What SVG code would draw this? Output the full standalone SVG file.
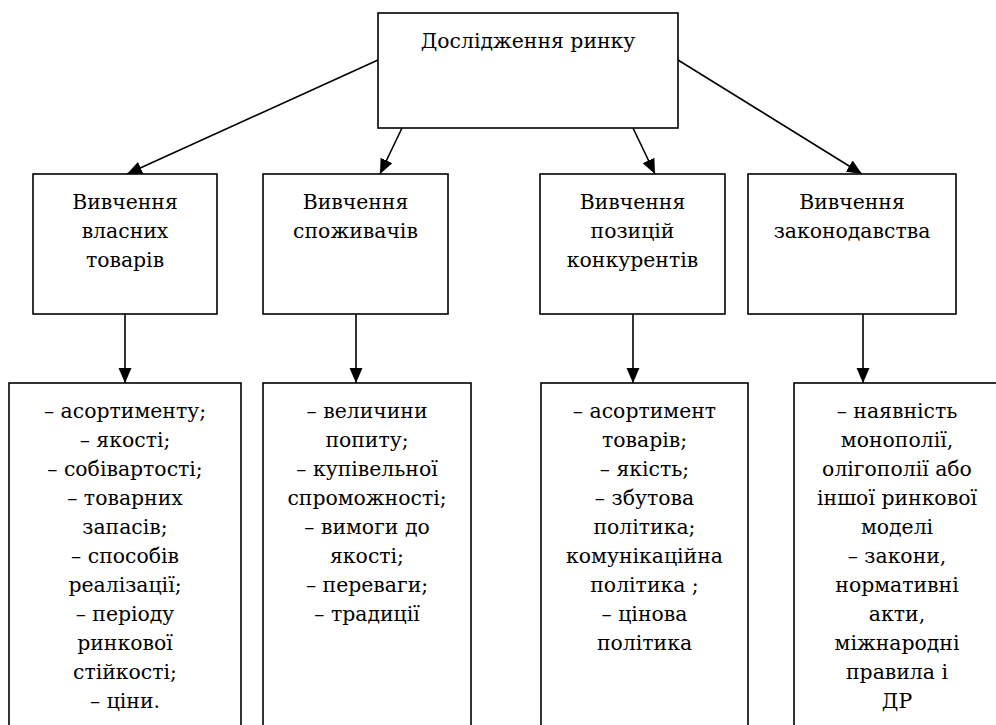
<svg xmlns="http://www.w3.org/2000/svg" width="996" height="725" viewBox="0 0 996 725">
<defs>
<marker id="arr" markerUnits="userSpaceOnUse" markerWidth="16" markerHeight="14" refX="15" refY="6.5" orient="auto">
<path d="M0,0 L15,6.5 L0,13 z" fill="#000"/>
</marker>
<style>
rect{fill:#fff;stroke:#000;stroke-width:1.6}
text{font-family:"DejaVu Serif","Liberation Serif",serif;font-size:20.4px;fill:#000;text-anchor:middle}
.c line{stroke:#000;stroke-width:1.6;marker-end:url(#arr)}
</style>
</defs>
<rect x="0" y="0" width="996" height="725" style="stroke:none"/>
<g class="c" id="connectors">
<line x1="378" y1="60" x2="127" y2="174"/>
<line x1="402" y1="128" x2="380" y2="174"/>
<line x1="633" y1="128" x2="655" y2="174"/>
<line x1="678" y1="60" x2="862" y2="174"/>
<line x1="125" y1="314" x2="125" y2="383"/>
<line x1="356" y1="314" x2="356" y2="383"/>
<line x1="633" y1="314" x2="633" y2="383"/>
<line x1="863" y1="314" x2="863" y2="383"/>
</g>
<g id="root">
<rect x="378" y="13" width="300" height="115"/>
<text x="528" y="48">Дослідження ринку</text>
</g>
<g id="n1">
<rect x="33" y="174" width="184" height="140"/>
<text x="125" y="209">Вивчення</text>
<text x="125" y="238">власних</text>
<text x="125" y="267">товарів</text>
</g>
<g id="n2">
<rect x="263" y="174" width="185" height="140"/>
<text x="355.5" y="209">Вивчення</text>
<text x="355.5" y="238">споживачів</text>
</g>
<g id="n3">
<rect x="540" y="174" width="185" height="140"/>
<text x="632.5" y="209">Вивчення</text>
<text x="632.5" y="238">позицій</text>
<text x="632.5" y="267">конкурентів</text>
</g>
<g id="n4">
<rect x="748" y="174" width="208" height="140"/>
<text x="852" y="209">Вивчення</text>
<text x="852" y="238">законодавства</text>
</g>
<g id="d1">
<rect x="9" y="383" width="232" height="360"/>
<text x="125" y="418">– асортименту;</text>
<text x="125" y="447">– якості;</text>
<text x="125" y="476">– собівартості;</text>
<text x="125" y="505">– товарних</text>
<text x="125" y="534">запасів;</text>
<text x="125" y="563">– способів</text>
<text x="125" y="592">реалізації;</text>
<text x="125" y="621">– періоду</text>
<text x="125" y="650">ринкової</text>
<text x="125" y="679">стійкості;</text>
<text x="125" y="708">– ціни.</text>
</g>
<g id="d2">
<rect x="263" y="383" width="208" height="360"/>
<text x="367" y="418">– величини</text>
<text x="367" y="447">попиту;</text>
<text x="367" y="476">– купівельної</text>
<text x="367" y="505">спроможності;</text>
<text x="367" y="534">– вимоги до</text>
<text x="367" y="563">якості;</text>
<text x="367" y="592">– переваги;</text>
<text x="367" y="621">– традиції</text>
</g>
<g id="d3">
<rect x="541" y="383" width="207" height="360"/>
<text x="644.5" y="418">– асортимент</text>
<text x="644.5" y="447">товарів;</text>
<text x="644.5" y="476">– якість;</text>
<text x="644.5" y="505">– збутова</text>
<text x="644.5" y="534">політика;</text>
<text x="644.5" y="563">комунікаційна</text>
<text x="644.5" y="592">політика ;</text>
<text x="644.5" y="621">– цінова</text>
<text x="644.5" y="650">політика</text>
</g>
<g id="d4">
<rect x="794" y="383" width="206" height="360"/>
<text x="897" y="418">– наявність</text>
<text x="897" y="447">монополії,</text>
<text x="897" y="476">олігополії або</text>
<text x="897" y="505">іншої ринкової</text>
<text x="897" y="534">моделі</text>
<text x="897" y="563">– закони,</text>
<text x="897" y="592">нормативні</text>
<text x="897" y="621">акти,</text>
<text x="897" y="650">міжнародні</text>
<text x="897" y="679">правила і</text>
<text x="897" y="708">ДР</text>
</g>
</svg>
